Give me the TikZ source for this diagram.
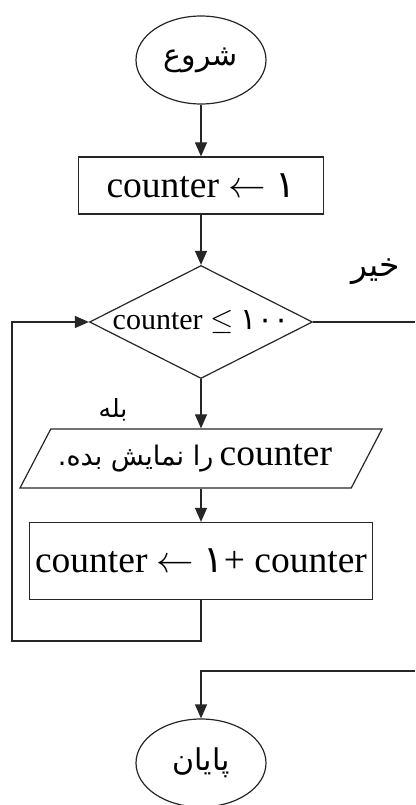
\RequirePackage{fix-cm}
\documentclass[tikz,border=0pt]{standalone}
\usepackage{fontspec}
\setmainfont{Liberation Serif}
\newfontfamily\farsi[Script=Arabic]{DejaVu Sans}
\TeXXeTstate=1
\usepackage{tikz}
\usetikzlibrary{shapes.geometric,arrows.meta}

\tikzset{
	flowline/.style={line width=1.2pt, draw=black!85, -{Triangle[length=14pt,width=12pt]}},
	plainline/.style={line width=1.2pt, draw=black!85},
	terminal/.style={draw=black!85, line width=1.2pt, ellipse, inner sep=0pt, minimum width=130pt, minimum height=88pt, font=\farsi\fontsize{30}{36}\selectfont},
	procbox/.style={draw=black!85, line width=1.2pt, rectangle, inner sep=0pt, font=\fontsize{37.5}{45}\selectfont},
	decision/.style={draw=black!85, line width=1.2pt, diamond, inner sep=0pt, minimum width=223pt, minimum height=113pt, font=\fontsize{30}{36}\selectfont},
	iobox/.style={draw=black!85, line width=1.2pt, trapezium, trapezium left angle=42, trapezium right angle=138, trapezium stretches body, inner sep=0pt, minimum width=362pt, minimum height=59pt, font=\fontsize{37.5}{45}\selectfont},
	answer/.style={font=\farsi\fontsize{25}{30}\selectfont, inner sep=0pt}
}

\begin{document}
\begin{tikzpicture}[x=1pt,y=-1pt]
	\useasboundingbox (0,0) rectangle (415,805);
	
	\node[terminal] (start) at (201,60) {\beginR شروع\endR};
	\node[procbox, minimum width=245pt, minimum height=57pt] (init) at (201,185.5) {counter $\leftarrow$ {\farsi ۱}};
	\node[decision] (check) at (201,322) {\makebox[0pt]{counter $\leq$ {\farsi ۱۰۰}}};
	\node[iobox] (show) at (201,458.5) {\makebox[0pt]{\hspace*{-12pt}{\farsi\fontsize{27}{32}\selectfont\beginR را نمایش بده.\endR}\,counter}};
	\node[procbox, minimum width=343pt, minimum height=77pt] (incr) at (201,561) {counter $\leftarrow$ {\farsi ۱}+ counter};
	\node[terminal] (stop) at (201,763) {\beginR پایان\endR};
	
	\node[answer] (yes) at (113,410) {\beginR بله\endR};
	\node[answer, font=\farsi\fontsize{33}{38}\selectfont] (no) at (376,272) {\beginR خیر\endR};
	
	\coordinate (loopc) at (12,641);
	\coordinate (exitR) at (415,322);
	\coordinate (enterR) at (415,671);
	
	\draw[flowline] (start) -- (init);
	\draw[flowline] (init) -- (check);
	\draw[flowline] (check) -- (show);
	\draw[flowline] (show) -- (incr);
	\draw[flowline] (incr.south) |- (loopc) |- (check.west);
	\draw[plainline] (check.east) -- (exitR);
	\draw[flowline] (enterR) -| (stop.north);
	
\end{tikzpicture}
\end{document}
